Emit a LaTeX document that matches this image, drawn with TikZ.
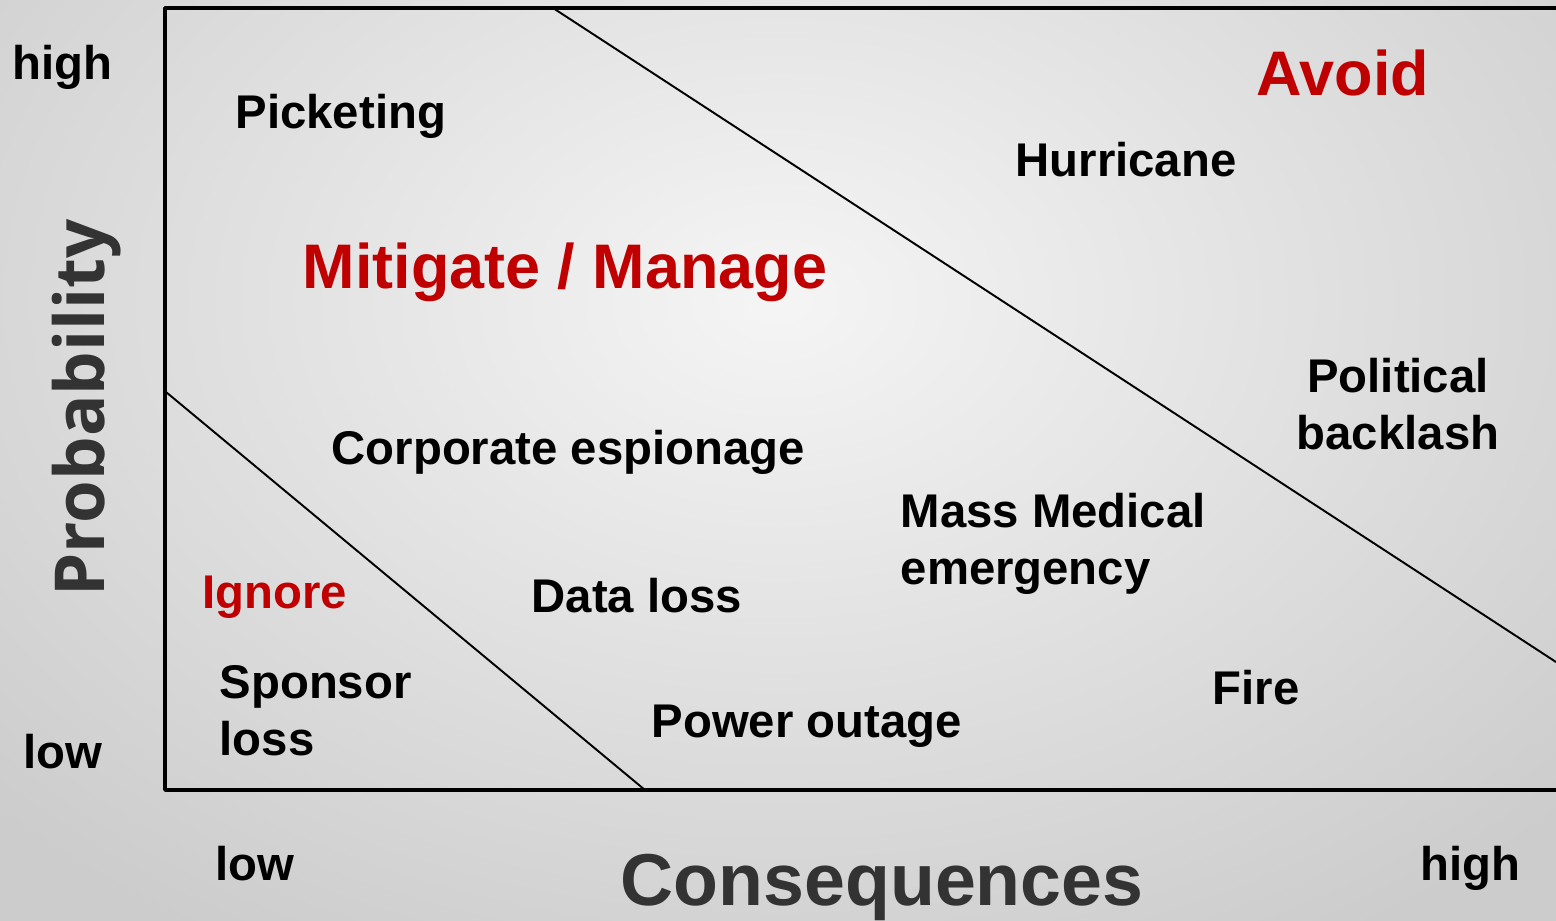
\documentclass[tikz,border=0pt]{standalone}
\usepackage{fontspec}
\setmainfont{Liberation Sans}
\newfontfamily\axisfont{Open Sans}
\definecolor{riskred}{HTML}{C00000}
\definecolor{axisgray}{HTML}{333333}
\begin{document}
\begin{tikzpicture}[x=0.01cm,y=-0.01cm,line join=round,
	lbl/.style={inner sep=0pt,font=\fontsize{13.45pt}{16.2pt}\selectfont\bfseries},
	zone/.style={inner sep=0pt,text=riskred,font=\fontsize{17.9pt}{21pt}\selectfont\bfseries},
	axis/.style={inner sep=0pt,text=axisgray,font=\fontsize{20.9pt}{24pt}\selectfont\bfseries}]
	\useasboundingbox (0,0) rectangle (1556,921);
	\begin{scope}
		\clip (0,0) rectangle (1556,921);
		\shade[inner color=white!96!black,outer color=white!80!black] (-300,-450) rectangle (1856,1050);
	\end{scope}
	% frame and zone borders
	\draw[line width=1pt] (1556,8)--(165,8)--(165,790)--(1556,790);
	\coordinate (avoidtop) at (553,8);
	\coordinate (avoidend) at (1556,662);
	\coordinate (ignoretop) at (166,392);
	\coordinate (ignoreend) at (645,790);
	\draw[line width=.55pt] (avoidtop)--(avoidend);
	\draw[line width=.55pt] (ignoretop)--(ignoreend);
	% axes
	\node[lbl,anchor=base west] (phigh) at (12,80) {high};
	\node[lbl,anchor=base west] (plow) at (23,768) {low};
	\node[lbl,anchor=base west] (clow) at (215,880) {low};
	\node[lbl,anchor=base west] (chigh) at (1420,880) {high};
	\node[axis,anchor=base west] (cons) at (620,905) {Consequences};
	\node[axis,font=\axisfont\fontsize{19.6pt}{24pt}\selectfont\bfseries,rotate=90,anchor=base west] (prob) at (104,597) {Probability};
	% zones
	\node[zone,anchor=base west] (avoid) at (1256,96) {Avoid};
	\node[zone,anchor=base west] (mitigate) at (302,288) {Mitigate / Manage};
	\node[zone,font=\fontsize{13.45pt}{16.2pt}\selectfont\bfseries,anchor=base west] (ignore) at (202,608) {Ignore};
	% risks
	\node[lbl,anchor=base west] (picket) at (235,128) {Picketing};
	\node[lbl,anchor=base west] (hurricane) at (1015,176) {Hurricane};
	\node[lbl,align=center,anchor=north] (backlash) at (1398,358) {Political\\backlash};
	\node[lbl,anchor=base west] (espionage) at (331,465) {Corporate espionage};
	\node[lbl,align=left,anchor=north west] (medical) at (900,493) {Mass Medical\\emergency};
	\node[lbl,anchor=base west] (dataloss) at (531,612) {Data loss};
	\node[lbl,align=left,anchor=north west] (sponsor) at (219,665) {Sponsor\\loss};
	\node[lbl,anchor=base west] (power) at (651,737) {Power outage};
	\node[lbl,anchor=base west] (fire) at (1212,704) {Fire};
\end{tikzpicture}
\end{document}
